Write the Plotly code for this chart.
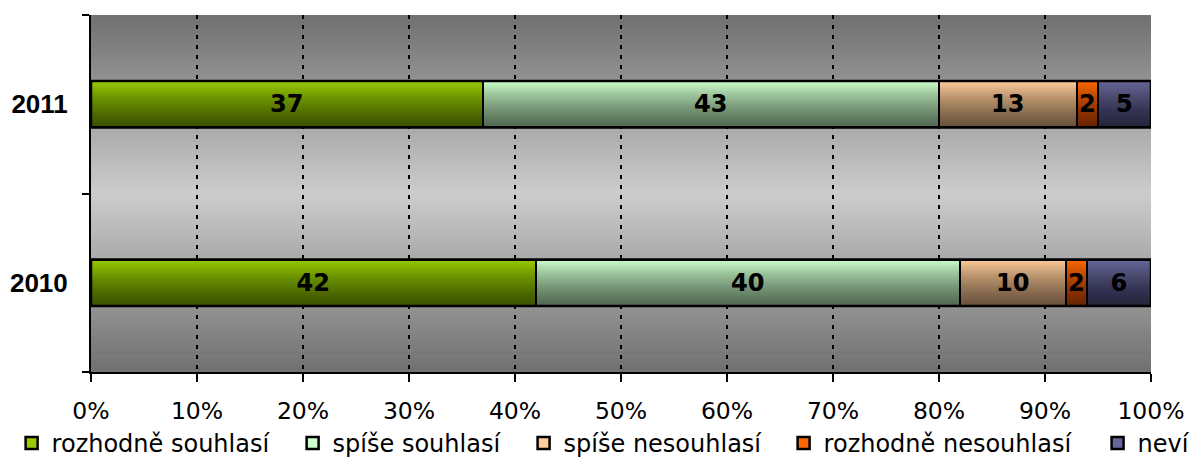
import plotly.graph_objects as go

years = ["2010", "2011"]
series_names = ["rozhodně souhlasí", "spíše souhlasí", "spíše nesouhlasí", "rozhodně nesouhlasí", "neví"]
values_2010 = [42, 40, 10, 2, 6]
values_2011 = [37, 43, 13, 2, 5]
x_ticks = [0, 10, 20, 30, 40, 50, 60, 70, 80, 90, 100]
x_tick_labels = [f"{v}%" for v in x_ticks]

colors = ["#99cc00", "#ccffcc", "#ffcc99", "#ff6600", "#666699"]
bar_width = 0.26
legend_x = [-0.0749, 0.1902, 0.4081, 0.6534, 0.9496]

fig = go.Figure()
for i, name in enumerate(series_names):
    vals = [values_2010[i], values_2011[i]]
    fig.add_trace(go.Bar(
        y=[0, 1], x=vals, orientation="h", name=name,
        width=bar_width,
        legend="legend" if i == 0 else f"legend{i + 1}",
        marker=dict(color=colors[i], line=dict(color="black", width=2.5)),
        text=[str(v) for v in vals], textposition="inside",
        insidetextanchor="middle", textangle=0,
        textfont=dict(family="DejaVu Sans", size=24, color="black", weight="bold"),
    ))

shapes = []
# background vertical gradient (dark at top/bottom, light in middle)
N = 90
for k in range(N):
    t0 = k / N
    t1 = (k + 1) / N
    tm = (t0 + t1) / 2
    d = abs(tm - 0.5) * 2
    g = int(round(204 - (204 - 112) * d))
    shapes.append(dict(type="rect", xref="x domain", yref="y domain",
                       x0=0, x1=1, y0=1 - t1 - 0.002, y1=1 - t0,
                       fillcolor=f"rgb({g},{g},{g})", line=dict(width=0),
                       layer="below"))
# bar shading overlay: stacked translucent layers
M = 40
a = 1 - (0.48 ** (1.0 / M))
for cat in range(len(years)):
    top = cat + bar_width / 2
    bottom = cat - bar_width / 2
    for k in range(M):
        y1 = top - bar_width * (k + 0.5) / M
        shapes.append(dict(type="rect", xref="x", yref="y",
                           x0=0, x1=100, y0=bottom, y1=y1,
                           fillcolor=f"rgba(0,0,0,{a:.4f})", line=dict(width=0),
                           layer="above"))
    shapes.append(dict(type="rect", xref="x", yref="y", x0=0, x1=100,
                       y0=bottom, y1=top,
                       line=dict(color="black", width=2.5), layer="above"))

legend_common = dict(orientation="h", xanchor="left", y=-0.2, yanchor="middle",
                     font=dict(family="DejaVu Sans", size=24, color="black"),
                     itemwidth=30, bgcolor="rgba(0,0,0,0)")
legends = {}
for i in range(len(series_names)):
    key = "legend" if i == 0 else f"legend{i + 1}"
    legends[key] = dict(legend_common, x=legend_x[i])

fig.update_layout(
    width=1190, height=464,
    margin=dict(l=91, r=39, t=15, b=92, autoexpand=False),
    barmode="stack",
    bargap=0,
    plot_bgcolor="#c8c8c8",
    paper_bgcolor="white",
    shapes=shapes,
    showlegend=True,
    uniformtext=dict(minsize=24, mode="show"),
    font=dict(family="DejaVu Sans", color="black"),
    **legends,
)
fig.update_xaxes(
    range=[0, 100], tickvals=x_ticks, ticktext=x_tick_labels,
    ticks="outside", ticklen=8, tickwidth=2, tickcolor="black",
    showline=True, linecolor="black", linewidth=2,
    showgrid=True, gridcolor="black", gridwidth=2, griddash="4px,6px",
    zeroline=False, ticklabelstandoff=9, automargin=False,
    tickfont=dict(family="DejaVu Sans", size=23.5, color="black"),
)
fig.update_yaxes(
    range=[-0.5, 1.5], tickvals=[0, 1], ticktext=years,
    ticks="", showline=True, linecolor="black", linewidth=2,
    showgrid=False, zeroline=False, ticklabelstandoff=16, automargin=False,
    tickfont=dict(family="Liberation Sans", size=26, color="black", weight="bold"),
    minor=dict(tickvals=[-0.5, 0.5, 1.5], ticks="outside", ticklen=7,
               tickwidth=2, tickcolor="black", showgrid=False),
)

fig.write_html("out.html", config={"displayModeBar": False},
               post_script="document.body.style.margin='0';document.body.style.overflow='hidden';")
